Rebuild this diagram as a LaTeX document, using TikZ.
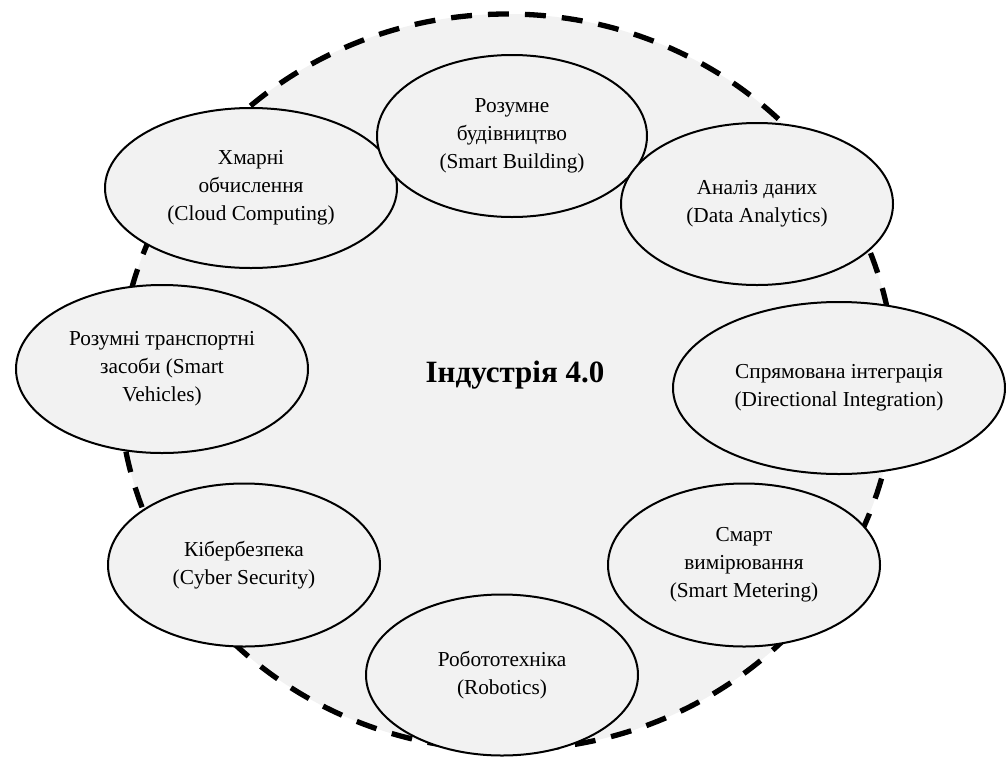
\documentclass[tikz,border=0pt]{standalone}
\usepackage{fontspec}
\setmainfont{Liberation Serif}
\usetikzlibrary{shapes.geometric}
\definecolor{pale}{HTML}{F2F2F2}

\begin{document}
\begin{tikzpicture}[x=1pt,y=-1pt,
  ring/.style={ellipse,draw,fill=pale,line width=5.3pt,dash pattern=on 21pt off 16pt,
    minimum width=776pt,minimum height=736pt,inner sep=0pt},
  topic/.style={ellipse,draw,fill=pale,line width=2pt,inner sep=0pt,align=center,
    font=\fontsize{21.3}{28}\selectfont}]
\useasboundingbox (0,0) rectangle (1006,758);
\node [ring] (r) at (507,382) {};
\node [font=\fontsize{31}{36}\selectfont\bfseries] (c) at (515,375) {Індустрія 4.0};
\node [topic,minimum width=292pt,minimum height=160pt] (cl) at (251,188)
  {Хмарні\\обчислення\\(Cloud Computing)};
\node [topic,minimum width=270pt,minimum height=162pt] (sb) at (512,136)
  {Розумне\\будівництво\\(Smart Building)};
\node [topic,minimum width=272pt,minimum height=162pt] (da) at (757,204)
  {Аналіз даних\\(Data Analytics)};
\node [topic,minimum width=292pt,minimum height=168pt] (sv) at (162,369)
  {Розумні транспортні\\засоби (Smart\\Vehicles)};
\node [topic,minimum width=332pt,minimum height=172pt] (di) at (839,388)
  {Спрямована інтеграція\\(Directional Integration)};
\node [topic,minimum width=272pt,minimum height=163pt] (cs) at (244,565)
  {Кібербезпека\\(Cyber Security)};
\node [topic,minimum width=272pt,minimum height=163pt] (sm) at (744,565)
  {Смарт\\вимірювання\\(Smart Metering)};
\node [topic,minimum width=272pt,minimum height=161pt] (ro) at (502,675)
  {Робототехніка\\(Robotics)};
\end{tikzpicture}
\end{document}
